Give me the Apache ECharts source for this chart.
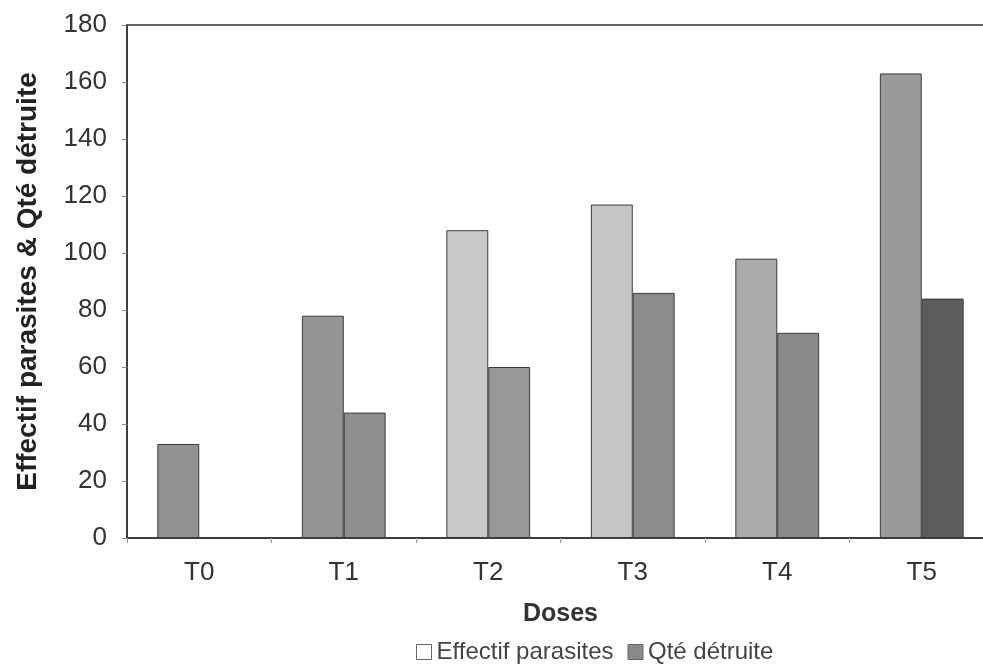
<!DOCTYPE html>
<html>
<head>
<meta charset="utf-8">
<script src="https://cdn.jsdelivr.net/npm/echarts@6/dist/echarts.min.js"></script>
<style>
html,body{margin:0;padding:0;background:#fff;}
#c{width:983px;height:668px;}
</style>
</head>
<body>
<div id="c"></div>
<script>
var categories = ['T0', 'T1', 'T2', 'T3', 'T4', 'T5'];
var effectifParasites = [33, 78, 108, 117, 98, 163];
var qteDetruite = [0, 44, 60, 86, 72, 84];
var yTicks = [0, 20, 40, 60, 80, 100, 120, 140, 160, 180];
var seriesNames = ['Effectif parasites', 'Qté détruite'];

var shades1 = ['#929292', '#959595', '#c8c8c8', '#c6c6c6', '#ababab', '#9a9a9a'];
var shades2 = ['#8e8e8e', '#8e8e8e', '#989898', '#8c8c8c', '#8a8a8a', '#5c5c5c'];

var chart = echarts.init(document.getElementById('c'), null, {renderer: 'canvas'});
var font = 'Liberation Sans, Arial, sans-serif';
chart.setOption({
  animation: false,
  backgroundColor: '#fff',
  grid: {left: 127, top: 25, bottom: 130, width: 867, outerBoundsMode: 'none', containLabel: false,
         show: true, borderColor: '#333', borderWidth: 1.5, backgroundColor: 'transparent'},
  legend: {
    left: 411, top: 635,
    itemWidth: 15, itemHeight: 15, itemGap: 14,
    textStyle: {fontFamily: font, fontSize: 24, color: '#444'},
    data: [
      {name: seriesNames[0], icon: 'rect', itemStyle: {color: '#fff', borderColor: '#666', borderWidth: 1}},
      {name: seriesNames[1], icon: 'rect', itemStyle: {color: '#8a8a8a', borderColor: '#666', borderWidth: 1}}
    ]
  },
  xAxis: {
    type: 'category',
    data: categories,
    name: 'Doses',
    nameLocation: 'middle',
    nameGap: 64,
    nameTextStyle: {fontFamily: font, fontSize: 25, fontWeight: 'bold', color: '#333'},
    axisLine: {lineStyle: {color: '#333', width: 1.5}},
    axisTick: {show: true, alignWithLabel: false, length: 5, lineStyle: {color: '#999'}},
    axisLabel: {fontFamily: font, fontSize: 26, color: '#333', margin: 22},
    splitLine: {show: false}
  },
  yAxis: {
    type: 'value',
    min: yTicks[0],
    max: yTicks[yTicks.length - 1],
    interval: 20,
    name: 'Effectif parasites & Qté détruite',
    nameLocation: 'middle',
    nameGap: 85,
    nameTextStyle: {fontFamily: font, fontSize: 28, fontWeight: 'bold', color: '#222'},
    axisLine: {show: true, lineStyle: {color: '#333', width: 1.5}},
    axisTick: {show: true, length: 5, lineStyle: {color: '#888'}},
    axisLabel: {fontFamily: font, fontSize: 26, color: '#333', margin: 20},
    splitLine: {show: false}
  },
  series: [
    {
      name: seriesNames[0],
      type: 'bar',
      data: effectifParasites,
      barGap: '0%',
      barCategoryGap: '42%',
      itemStyle: {color: function (p) { return shades1[p.dataIndex]; }, borderColor: '#3a3a3a', borderWidth: 1}
    },
    {
      name: seriesNames[1],
      type: 'bar',
      data: qteDetruite,
      barGap: '0%',
      barCategoryGap: '42%',
      itemStyle: {color: function (p) { return shades2[p.dataIndex]; }, borderColor: '#3a3a3a', borderWidth: 1}
    }
  ]
});
</script>
</body>
</html>
